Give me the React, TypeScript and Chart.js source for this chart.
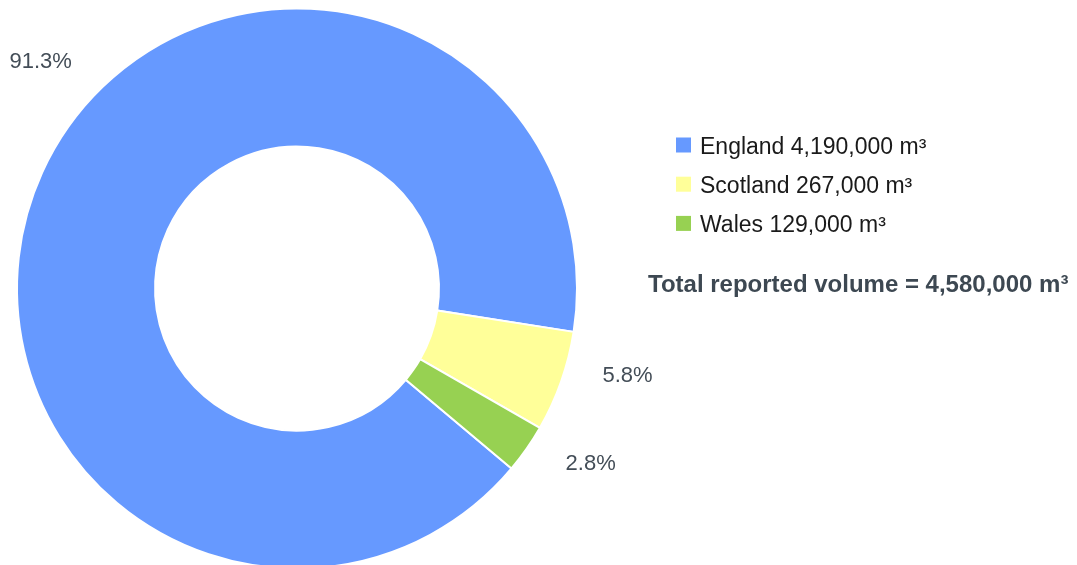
import React, { useEffect, useRef } from "react";
import { Chart, registerables } from "chart.js";

Chart.register(...registerables);

const regions = ["England", "Scotland", "Wales"];
const volumes = [4190000, 267000, 129000];
const volumeLabels = ["4,190,000 m³", "267,000 m³", "129,000 m³"];
const percentLabels = ["91.3%", "5.8%", "2.8%"];
const totalLabel = "Total reported volume = 4,580,000 m³";
const colors = ["#6699ff", "#ffff99", "#97d152"];

const FONT = '"Liberation Sans", Arial, sans-serif';

const outsideLabels = {
  id: "outsideLabels",
  afterDatasetsDraw(chart: any, _args: any, opts: any) {
    const ctx = chart.ctx;
    const meta = chart.getDatasetMeta(0);
    ctx.save();
    ctx.font = `${opts.size}px ${FONT}`;
    ctx.fillStyle = opts.color;
    ctx.textAlign = "center";
    ctx.textBaseline = "middle";
    meta.data.forEach((arc: any, i: number) => {
      const p = arc.getProps(["x", "y", "startAngle", "endAngle", "outerRadius"], true);
      const mid = (p.startAngle + p.endAngle) / 2 + (opts.shiftDeg[i] * Math.PI) / 180;
      const r = p.outerRadius + opts.offset;
      ctx.fillText(percentLabels[i], p.x + r * Math.cos(mid), p.y + r * Math.sin(mid));
    });
    ctx.restore();
  },
};

const sideLegend = {
  id: "sideLegend",
  afterDraw(chart: any, _args: any, opts: any) {
    const ctx = chart.ctx;
    ctx.save();
    ctx.textAlign = "left";
    ctx.textBaseline = "alphabetic";
    regions.forEach((name, i) => {
      const top = opts.top + i * opts.spacing;
      ctx.fillStyle = colors[i];
      ctx.fillRect(opts.x, top, opts.box, opts.box);
      ctx.fillStyle = opts.color;
      ctx.font = `${opts.size}px ${FONT}`;
      ctx.fillText(`${name} ${volumeLabels[i]}`, opts.x + opts.textGap, top + opts.baseline);
    });
    ctx.font = `bold ${opts.totalSize}px ${FONT}`;
    ctx.fillStyle = opts.totalColor;
    ctx.fillText(totalLabel, opts.totalX, opts.totalBaseline);
    ctx.restore();
  },
};

export default function App() {
  const ref = useRef<HTMLCanvasElement>(null);
  useEffect(() => {
    if (!ref.current) return;
    const chart = new Chart(ref.current, {
      type: "doughnut",
      data: {
        labels: regions,
        datasets: [
          {
            data: volumes,
            backgroundColor: colors,
            borderColor: "#ffffff",
            borderWidth: 2,
          },
        ],
      },
      options: {
        responsive: false,
        animation: false,
        rotation: 130,
        cutout: "50.7%",
        layout: { padding: { left: 16, top: 7.5, right: 499, bottom: 10.5 } },
        plugins: {
          legend: { display: false },
          tooltip: { enabled: false },
          outsideLabels: { size: 22, color: "#434d57", offset: 62, shiftDeg: [17, -4.5, -4.1] },
          sideLegend: {
            x: 676,
            top: 137.5,
            spacing: 39.2,
            box: 15,
            textGap: 24,
            baseline: 16,
            size: 23,
            color: "#1a1a1a",
            totalSize: 24,
            totalColor: "#3d4852",
            totalX: 648,
            totalBaseline: 291.5,
          },
        } as any,
      },
      plugins: [outsideLabels, sideLegend],
    });
    return () => chart.destroy();
  }, []);
  return (
    <div style={{ position: "fixed", left: 0, top: 0, width: 1077, height: 565, overflow: "hidden", background: "#fff" }}>
      <canvas ref={ref} width={1077} height={580} style={{ display: "block" }} />
    </div>
  );
}
